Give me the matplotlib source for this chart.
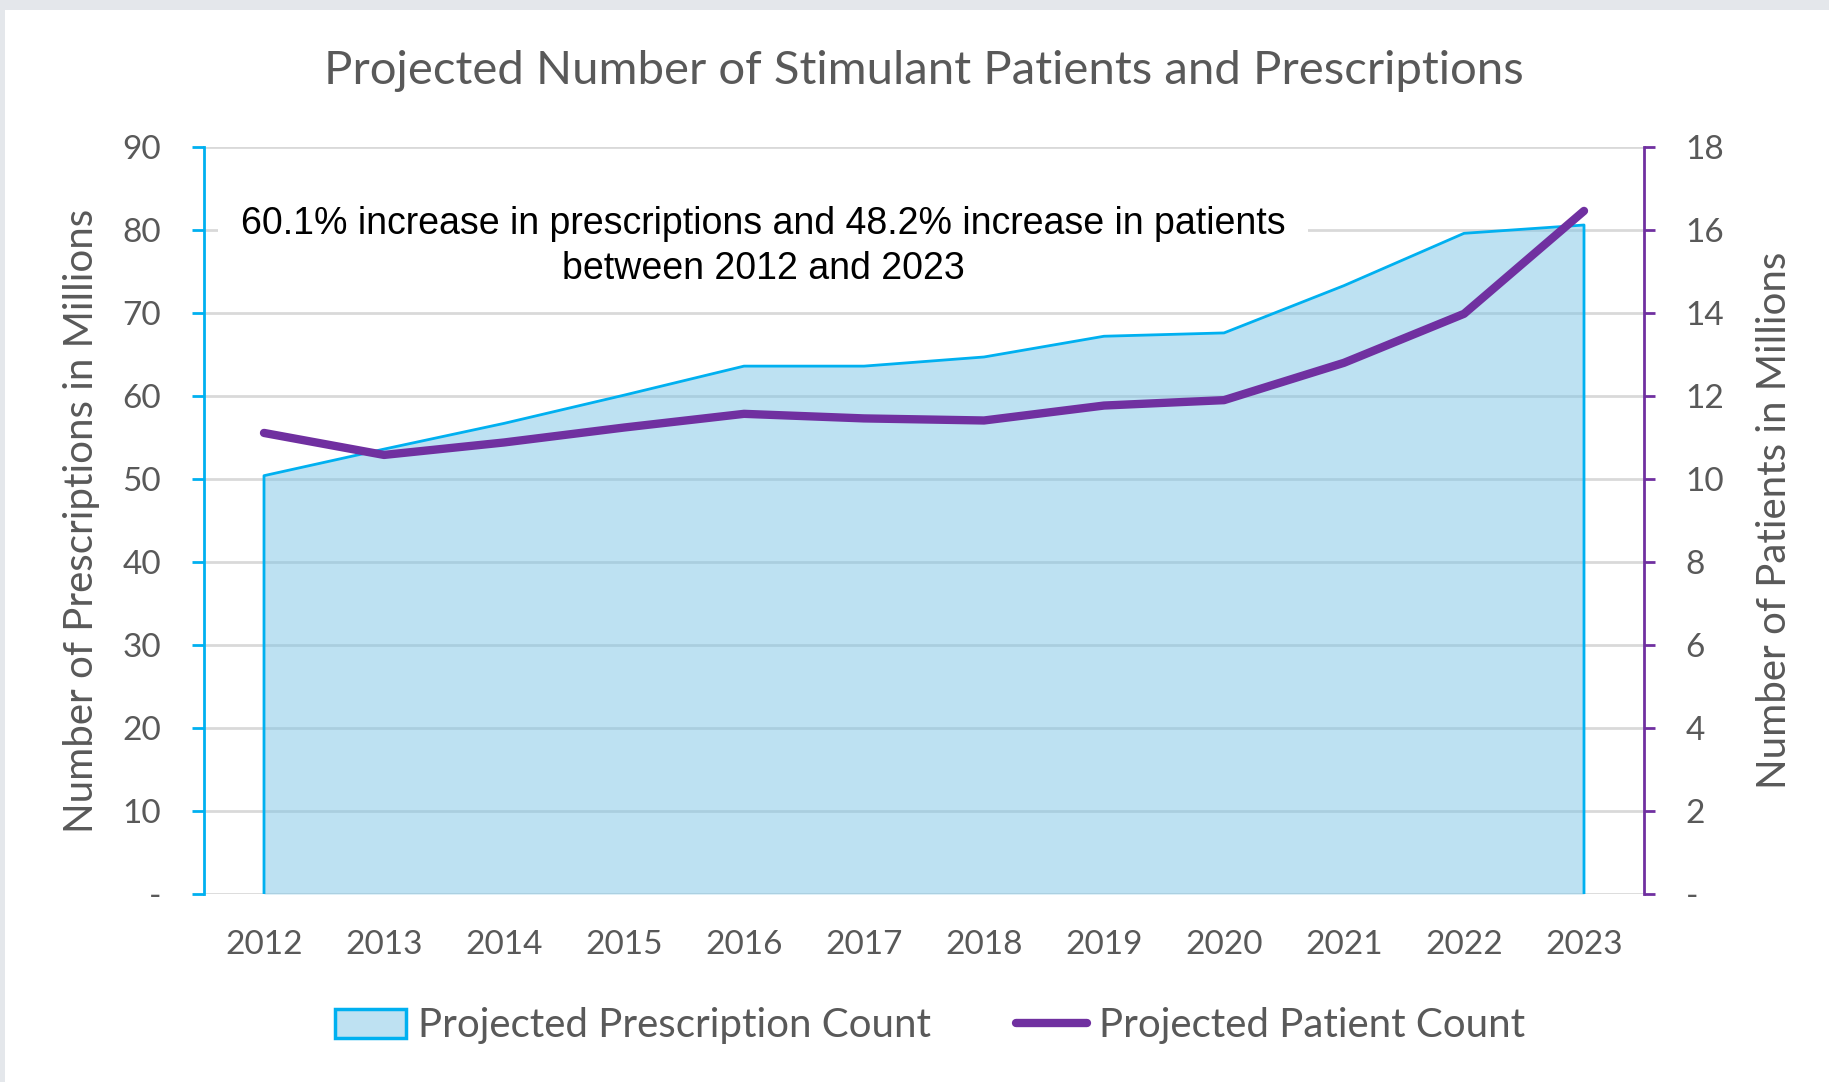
import matplotlib
matplotlib.use('Agg')
import matplotlib.pyplot as plt
from matplotlib.patches import Rectangle, Patch
from matplotlib.lines import Line2D

# Data
years = [2012, 2013, 2014, 2015, 2016, 2017, 2018, 2019, 2020, 2021, 2022, 2023]
prescriptions = [50.4, 53.6, 56.7, 60.1, 63.6, 63.6, 64.7, 67.2, 67.6, 73.3, 79.6, 80.6]
patients = [11.11, 10.58, 10.88, 11.24, 11.57, 11.46, 11.41, 11.77, 11.90, 12.80, 13.98, 16.46]

left_ticks = list(range(0, 91, 10))
right_ticks = list(range(0, 19, 2))

TITLE = 'Projected Number of Stimulant Patients and Prescriptions'
NOTE = '60.1% increase in prescriptions and 48.2% increase in patients\nbetween 2012 and 2023'

CYAN = '#00b0f0'
FILL = '#7dc4e6'
PURPLE = '#7030a0'
GRAY_TXT = '#595959'
GRID = '#d9d9d9'
FONT = 'Lato'

fig = plt.figure(figsize=(18.29, 10.82), dpi=100, facecolor='#e4e7eb')
fig.patches.append(Rectangle((5 / 1829, 0), 1, 1 - 10 / 1082, transform=fig.transFigure,
                             facecolor='white', edgecolor='none', zorder=-10))

ax = fig.add_axes([204 / 1829, 1 - 894 / 1082, 1440 / 1829, 747 / 1082])
ax.set_facecolor('none')
ax2 = ax.twinx()

# prescription area
ax.fill_between(years, prescriptions, 0, color=FILL, alpha=0.5, linewidth=0, zorder=2)
ax.plot([years[0]] + years + [years[-1]], [0] + prescriptions + [0],
        color=CYAN, linewidth=2, zorder=3)

# patient line
ax2.plot(years, patients, color=PURPLE, linewidth=6, solid_capstyle='round',
         solid_joinstyle='round', zorder=4)

ax.set_xlim(2011.5, 2023.5)
ax.set_ylim(0, 90)
ax2.set_ylim(0, 18)

ax.set_yticks(left_ticks)
ax.set_yticklabels(['-' if v == 0 else str(v) for v in left_ticks])
ax2.set_yticks(right_ticks)
ax2.set_yticklabels(['-' if v == 0 else str(v) for v in right_ticks])
ax.set_xticks(years)
ax.set_xticklabels([str(y) for y in years])

ax.grid(axis='y', color=GRID, linewidth=2, zorder=1)
ax.set_axisbelow(True)

for s in ['top', 'bottom', 'right']:
    ax.spines[s].set_visible(False)
for s in ['top', 'bottom', 'left']:
    ax2.spines[s].set_visible(False)
ax.spines['left'].set_color(CYAN)
ax.spines['left'].set_linewidth(2)
ax2.spines['right'].set_color(PURPLE)
ax2.spines['right'].set_linewidth(2)

ax.tick_params(axis='y', direction='out', length=9, width=2, color=CYAN,
               pad=22, labelsize=24, labelcolor=GRAY_TXT)
ax2.tick_params(axis='y', direction='out', length=8, width=2, color=PURPLE,
                pad=22, labelsize=24, labelcolor=GRAY_TXT)
ax.tick_params(axis='x', length=0, pad=26, labelsize=24, labelcolor=GRAY_TXT)
for lab in ax.get_xticklabels() + ax.get_yticklabels() + ax2.get_yticklabels():
    lab.set_family(FONT)

ax.set_ylabel('Number of Prescriptions in Millions', fontsize=29, color=GRAY_TXT, family=FONT)
ax.yaxis.set_label_coords(-0.0722, 0.5)
ax2.set_ylabel('Number of Patients in Millions', fontsize=29, color=GRAY_TXT, family=FONT)
ax2.yaxis.set_label_coords(1.078, 0.5)

fig.text(924 / 1829, 1 - 71 / 1082, TITLE, ha='center', va='center',
         fontsize=34, color=GRAY_TXT, family=FONT)

# text box sits above the gridlines but under the area
ax.text(2016.16, 78.0, NOTE, ha='center', va='center', fontsize=27,
        family='Liberation Sans', color='black', linespacing=1.34, zorder=1.5,
        bbox=dict(boxstyle='square,pad=0.6', facecolor='white', edgecolor='none'))

handles = [
    Patch(facecolor='#bee1f2', edgecolor=CYAN, linewidth=2.5, label='Projected Prescription Count'),
    Line2D([0], [0], color=PURPLE, linewidth=6, solid_capstyle='round', label='Projected Patient Count'),
]
fig.legend(handles=handles, loc='center', bbox_to_anchor=(930 / 1829, 1 - 1026 / 1082),
           ncol=2, frameon=False, prop={'family': FONT, 'size': 29},
           labelcolor=GRAY_TXT, handlelength=1.77, handleheight=0.75,
           handletextpad=0.3, columnspacing=2.1)

fig.savefig('out.png', dpi=100, facecolor=fig.get_facecolor())
